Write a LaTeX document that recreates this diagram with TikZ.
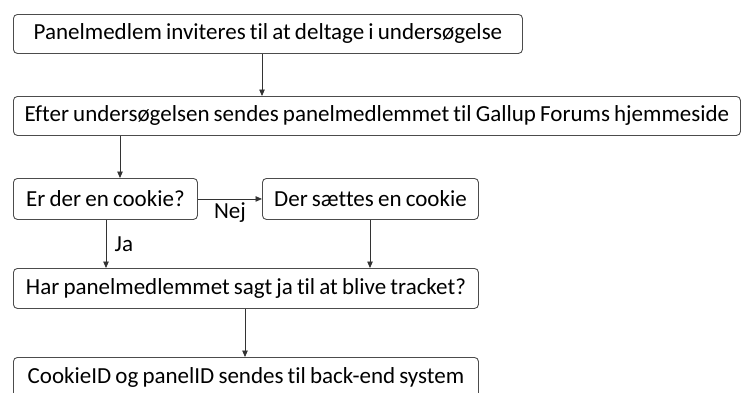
\documentclass[tikz,border=0pt]{standalone}
\usepackage{fontspec}
\setmainfont{Carlito}[Ligatures=NoCommon,WordSpace=0.8]
\usetikzlibrary{arrows.meta}

\begin{document}
\begin{tikzpicture}[x=1pt,y=-1pt,
  box/.style={draw=black!70,line width=0.9pt,rounded corners=4pt,anchor=north west,
    inner sep=0pt,minimum height=39pt,font=\fontsize{23}{27}\selectfont},
  flow/.style={draw=black!80,line width=0.8pt,-{Triangle[length=6.5pt,width=5.5pt]}}]
 \useasboundingbox (0,0) rectangle (741,392);
 % boxes
 \node[box,minimum width=509pt] (invite) at (13,14) {Panelmedlem inviteres til at deltage i undersøgelse};
 \node[box,minimum width=727pt] (sendto) at (13,96) {Efter undersøgelsen sendes panelmedlemmet til Gallup Forums hjemmeside};
 \node[box,minimum width=184pt,minimum height=41pt] (cookie) at (13,178) {Er der en cookie?};
 \node[box,minimum width=216pt,minimum height=41pt] (setcookie) at (262,178) {Der sættes en cookie};
 \node[box,minimum width=465pt,minimum height=40pt] (tracked) at (13,268) {Har panelmedlemmet sagt ja til at blive tracket?};
 \node[box,minimum width=465pt,minimum height=40pt] (backend) at (13,357) {CookieID og panelID sendes til back-end system};
 % arrows
 \draw[flow] ([xshift=249pt]invite.south west) -- ([xshift=249pt]sendto.north west);
 \draw[flow] ([xshift=107pt]sendto.south west) -- ([xshift=107pt]cookie.north west);
 \draw[flow] (cookie.east) -- node[below=0pt,font=\fontsize{23}{27}\selectfont] (nej) {Nej} (setcookie.west);
 \draw[flow] ([xshift=93pt]cookie.south west) -- node[right=5pt,font=\fontsize{23}{27}\selectfont] (ja) {Ja} ([xshift=93pt]tracked.north west);
 \draw[flow] ([xshift=108pt]setcookie.south west) -- ([xshift=357pt]tracked.north west);
 \draw[flow] ([xshift=232pt]tracked.south west) -- ([xshift=232pt]backend.north west);
\end{tikzpicture}
\end{document}
